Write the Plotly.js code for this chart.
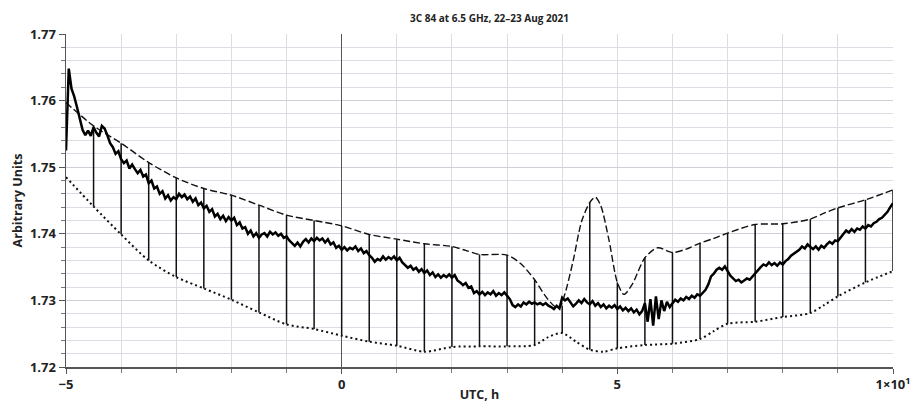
<!DOCTYPE html>
<html>
<head>
<meta charset="utf-8">
<script src="https://cdn.plot.ly/plotly-3.0.1.min.js"></script>
<style>html,body{margin:0;padding:0;background:#fff}#chart{width:915px;height:403px}</style>
</head>
<body>
<div id="chart"></div>
<script>
// Main signal, sampled every 0.05 h from -5 h to 10 h (UTC)
const sigStart = -5;
const sigStep = 0.05;
const signal = [
  1.7525, 1.7648, 1.7618, 1.7606, 1.7590, 1.7572, 1.7556, 1.7548, 1.7555, 1.7547,
  1.7560, 1.7552, 1.7546, 1.7562, 1.7558, 1.7548, 1.7536, 1.7530, 1.7520, 1.7524,
  1.7512, 1.7506, 1.7510, 1.7498, 1.7504, 1.7497, 1.7491, 1.7496, 1.7486, 1.7489,
  1.7476, 1.7480, 1.7468, 1.7471, 1.7460, 1.7464, 1.7453, 1.7458, 1.7450, 1.7455,
  1.7452, 1.7460, 1.7455, 1.7459, 1.7452, 1.7456, 1.7448, 1.7453, 1.7443, 1.7447,
  1.7438, 1.7442, 1.7433, 1.7437, 1.7426, 1.7430, 1.7422, 1.7427, 1.7419, 1.7425,
  1.7420, 1.7424, 1.7413, 1.7417, 1.7408, 1.7410, 1.7400, 1.7405, 1.7396, 1.7401,
  1.7394, 1.7399, 1.7401, 1.7396, 1.7403, 1.7399, 1.7402, 1.7397, 1.7400, 1.7394,
  1.7396, 1.7390, 1.7386, 1.7382, 1.7387, 1.7381, 1.7388, 1.7392, 1.7387, 1.7393,
  1.7389, 1.7394, 1.7390, 1.7393, 1.7387, 1.7392, 1.7384, 1.7387, 1.7379, 1.7382,
  1.7376, 1.7380, 1.7375, 1.7379, 1.7377, 1.7381, 1.7374, 1.7378, 1.7371, 1.7374,
  1.7368, 1.7364, 1.7358, 1.7362, 1.7360, 1.7366, 1.7361, 1.7365, 1.7362, 1.7366,
  1.7360, 1.7364, 1.7357, 1.7353, 1.7349, 1.7352, 1.7346, 1.7349, 1.7343, 1.7347,
  1.7341, 1.7345, 1.7338, 1.7342, 1.7335, 1.7339, 1.7334, 1.7338, 1.7335, 1.7339,
  1.7334, 1.7338, 1.7330, 1.7327, 1.7323, 1.7326, 1.7319, 1.7321, 1.7311, 1.7314,
  1.7309, 1.7313, 1.7308, 1.7312, 1.7309, 1.7314, 1.7307, 1.7311, 1.7308, 1.7312,
  1.7306, 1.7302, 1.7293, 1.7290, 1.7294, 1.7291, 1.7297, 1.7294, 1.7298, 1.7295,
  1.7297, 1.7294, 1.7296, 1.7293, 1.7296, 1.7292, 1.7290, 1.7287, 1.7292, 1.7288,
  1.7304, 1.7300, 1.7303, 1.7297, 1.7291, 1.7295, 1.7300, 1.7296, 1.7302, 1.7297,
  1.7294, 1.7299, 1.7292, 1.7296, 1.7290, 1.7294, 1.7288, 1.7292, 1.7289, 1.7293,
  1.7287, 1.7291, 1.7285, 1.7289, 1.7284, 1.7288, 1.7282, 1.7286, 1.7279, 1.7284,
  1.7296, 1.7268, 1.7302, 1.7262, 1.7306, 1.7272, 1.7300, 1.7284, 1.7298, 1.7290,
  1.7296, 1.7301, 1.7298, 1.7303, 1.7300, 1.7305, 1.7302, 1.7307, 1.7304, 1.7309,
  1.7307, 1.7311, 1.7316, 1.7324, 1.7336, 1.7340, 1.7346, 1.7349, 1.7346, 1.7351,
  1.7343, 1.7337, 1.7333, 1.7329, 1.7331, 1.7327, 1.7330, 1.7333, 1.7331, 1.7336,
  1.7340, 1.7345, 1.7350, 1.7354, 1.7352, 1.7357, 1.7353, 1.7356, 1.7352, 1.7357,
  1.7354, 1.7359, 1.7362, 1.7367, 1.7370, 1.7374, 1.7376, 1.7381, 1.7378, 1.7384,
  1.7380, 1.7377, 1.7381, 1.7376, 1.7382, 1.7379, 1.7384, 1.7388, 1.7385, 1.7390,
  1.7389, 1.7394, 1.7400, 1.7405, 1.7402, 1.7407, 1.7403, 1.7408, 1.7406, 1.7411,
  1.7408, 1.7413, 1.7411, 1.7416, 1.7418, 1.7422, 1.7424, 1.7429, 1.7433, 1.7440,
  1.7446
];

// Upper envelope (dashed)
const upperX = [-5, -4.5, -4, -3.5, -3, -2.5, -2, -1.5, -1, -0.5, 0, 0.5, 1, 1.5, 2, 2.25, 2.5, 3, 3.25, 3.5, 3.7, 3.85, 3.95,
  4.05, 4.2, 4.35, 4.5, 4.6, 4.7, 4.85, 5.0, 5.12, 5.27, 5.5, 5.73, 6.0, 6.25, 6.5, 6.75, 7.0, 7.5, 8.0, 8.5, 8.75, 9.0, 9.5, 10];
const upperY = [1.7597, 1.7562, 1.7536, 1.7507, 1.7484, 1.7468, 1.7458, 1.7443, 1.7428, 1.7420, 1.7412, 1.7399, 1.7392, 1.7385, 1.7381, 1.7375, 1.7369, 1.7368, 1.7355, 1.7331, 1.7306, 1.7292, 1.7289,
  1.7310, 1.7360, 1.7418, 1.7447, 1.7455, 1.7442, 1.7390, 1.7327, 1.7309, 1.7324, 1.7364, 1.7379, 1.7372, 1.7377, 1.7386, 1.7393, 1.7401, 1.7414, 1.7415, 1.7422, 1.7431, 1.7439, 1.7451, 1.7466];

// Lower envelope (dotted)
const lowerX = [-5, -4.5, -4, -3.5, -3, -2.5, -2, -1.5, -1, -0.5, 0, 0.5, 1, 1.5, 2, 2.5, 3, 3.5, 3.75, 4, 4.25, 4.5, 4.75,
  5, 5.5, 6, 6.5, 6.75, 7, 7.5, 8, 8.5, 8.75, 9, 9.5, 10];
const lowerY = [1.7485, 1.7441, 1.7399, 1.7360, 1.7335, 1.7318, 1.7301, 1.7282, 1.7264, 1.7257, 1.7247, 1.7238, 1.7232, 1.7223, 1.7230, 1.7231, 1.7231, 1.7233, 1.7245, 1.7251, 1.7238, 1.7226, 1.7223,
  1.7228, 1.7233, 1.7235, 1.7242, 1.7254, 1.7265, 1.7268, 1.7275, 1.7281, 1.7293, 1.7306, 1.7327, 1.7344];

// Half-hourly range bars
const barX = [-4.5, -4, -3.5, -3, -2.5, -2, -1.5, -1, -0.5, 0, 0.5, 1, 1.5, 2, 2.5, 3, 3.5, 4, 4.5, 5, 5.5, 6, 6.5, 7, 7.5, 8, 8.5, 9, 9.5, 10];
const barHigh = [1.7562, 1.7536, 1.7507, 1.7484, 1.7468, 1.7458, 1.7443, 1.7428, 1.7420, 1.7412, 1.7399, 1.7392, 1.7385, 1.7381, 1.7369, 1.7368, 1.7331, 1.7292, 1.7447, 1.7327, 1.7364, 1.7372, 1.7386, 1.7401, 1.7414, 1.7415, 1.7422, 1.7439, 1.7451, 1.7466];
const barLow = [1.7441, 1.7399, 1.7360, 1.7335, 1.7318, 1.7301, 1.7282, 1.7264, 1.7257, 1.7247, 1.7238, 1.7232, 1.7223, 1.7230, 1.7231, 1.7231, 1.7233, 1.7251, 1.7226, 1.7228, 1.7233, 1.7235, 1.7242, 1.7265, 1.7268, 1.7275, 1.7281, 1.7306, 1.7327, 1.7344];

// Axis ticks
const xTickVals = [-5, 0, 5, 10];
const xTickText = ['\u22125', '0', '5', '1\u00d710<sup>1</sup>'];
const yTickVals = [1.72, 1.73, 1.74, 1.75, 1.76, 1.77];
const yTickText = ['1.72', '1.73', '1.74', '1.75', '1.76', '1.77'];

const sigX = signal.map((_, i) => +(sigStart + i * sigStep).toFixed(3));
const bx = [], by = [];
barX.forEach((x, i) => { bx.push(x, x, null); by.push(barLow[i], barHigh[i], null); });

const traces = [
  { x: bx, y: by, mode: 'lines', line: { color: '#111', width: 1.5 }, hoverinfo: 'skip', showlegend: false },
  { x: upperX, y: upperY, mode: 'lines', line: { color: '#111', width: 1.4, dash: '7px,3px', shape: 'spline', smoothing: 0.8 }, showlegend: false },
  { x: lowerX, y: lowerY, mode: 'lines', line: { color: '#111', width: 2, dash: '2px,3px', shape: 'spline', smoothing: 0.8 }, showlegend: false },
  { x: sigX, y: signal, mode: 'lines', line: { color: '#000', width: 2.5 }, showlegend: false }
];

const gridC = '#dcdce4';
const fam = '"Open Sans", "DejaVu Sans", sans-serif';

const layout = {
  width: 915, height: 403,
  margin: { l: 66, r: 22, t: 34, b: 36 },
  paper_bgcolor: '#fff', plot_bgcolor: '#fff',
  font: { family: fam, size: 12, color: '#222' },
  title: { text: '3C 84 at 6.5 GHz, 22\u201323 Aug 2021', x: 0.535, xanchor: 'center', y: 0.955, yanchor: 'middle',
           font: { family: fam, size: 10, color: '#222', weight: 700 } },
  xaxis: {
    range: [-5, 10], tickmode: 'array', tickvals: xTickVals, ticktext: xTickText,
    showgrid: true, gridcolor: gridC, gridwidth: 1,
    zeroline: true, zerolinecolor: '#555', zerolinewidth: 1,
    showline: true, linecolor: '#555', linewidth: 1.5,
    ticks: 'outside', ticklen: 5, tickcolor: '#555', tickwidth: 1,
    minor: { dtick: 1, showgrid: true, gridcolor: gridC, gridwidth: 1, ticks: 'outside', ticklen: 4, tickcolor: '#777' },
    tickfont: { family: fam, size: 13, color: '#222', weight: 700 },
    title: { text: 'UTC, h', standoff: 2, font: { family: fam, size: 12.5, color: '#222', weight: 700 } },
    fixedrange: true
  },
  yaxis: {
    range: [1.72, 1.77], tickmode: 'array', tickvals: yTickVals, ticktext: yTickText,
    showgrid: true, gridcolor: '#cfcfd8', gridwidth: 1,
    zeroline: false,
    showline: true, linecolor: '#555', linewidth: 1.5,
    ticks: 'outside', ticklen: 6, tickcolor: '#555', tickwidth: 1,
    minor: { dtick: 0.002, showgrid: true, gridcolor: gridC, gridwidth: 1, ticks: 'outside', ticklen: 4, tickcolor: '#777' },
    tickfont: { family: fam, size: 13, color: '#222', weight: 700 },
    title: { text: 'Arbitrary Units', standoff: 4, font: { family: fam, size: 12.5, color: '#222', weight: 700 } },
    fixedrange: true
  }
};

Plotly.newPlot('chart', traces, layout, { displayModeBar: false, staticPlot: true });
</script>
</body>
</html>
